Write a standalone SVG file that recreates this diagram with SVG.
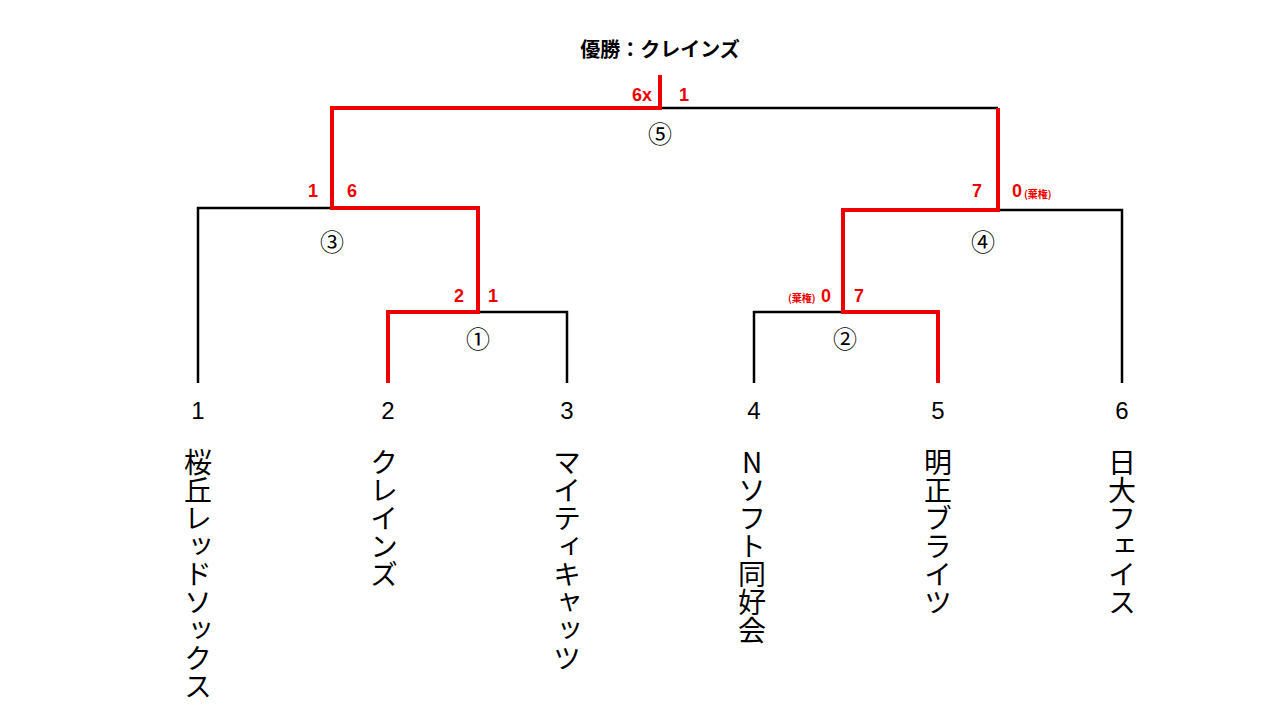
<svg xmlns="http://www.w3.org/2000/svg" width="1280" height="720" viewBox="0 0 1280 720">
<style>
.b{stroke:#000;stroke-width:2.5;fill:none}
.r{stroke:#e00;stroke-width:4;fill:none}
.s{fill:#e00;font-family:"Liberation Sans","Noto Sans CJK JP",sans-serif;font-weight:bold;font-size:18px}
.ss{fill:#e00;font-family:"Noto Sans CJK JP",sans-serif;font-weight:bold;font-size:10px}
.m{font-family:"Noto Sans CJK JP",sans-serif;font-size:24px;text-anchor:middle}
.n{font-family:"Liberation Sans",sans-serif;font-size:24px;text-anchor:middle}
.t{font-family:"Noto Sans CJK JP",sans-serif;font-size:28px;writing-mode:vertical-rl;text-orientation:upright}
</style>
<rect width="1280" height="720" fill="#fff"/>
<g id="connectors">
<path class="b" d="M660 108H998M198 383V208H332M478 312H567V383M998 210H1122V383M754 383V312H843"/>
<path class="r" d="M660 75V108H332V208H478V312H388V383M998 108V210H843V312H938V383"/>
</g>
<g id="title"><text x="660" y="57" text-anchor="middle" font-family="Noto Sans CJK JP,sans-serif" font-weight="bold" font-size="20">優勝：クレインズ</text></g>
<g id="m5"><text class="s" x="632" y="101">6x</text><text class="s" x="679" y="101">1</text><text class="m" x="660" y="143">⑤</text></g>
<g id="m3"><text class="s" x="308" y="197">1</text><text class="s" x="347" y="197">6</text><text class="m" x="332" y="251">③</text></g>
<g id="m1"><text class="s" x="454" y="302">2</text><text class="s" x="488" y="302">1</text><text class="m" x="478" y="348">①</text></g>
<g id="m4"><text class="s" x="972" y="197">7</text><text class="s" x="1012" y="197">0</text><text class="ss" x="1024" y="198">(棄権)</text><text class="m" x="983" y="251">④</text></g>
<g id="m2"><text class="ss" x="788" y="302">(棄権)</text><text class="s" x="821" y="302">0</text><text class="s" x="854" y="302">7</text><text class="m" x="845" y="348">②</text></g>
<g id="teams">
<text class="n" x="198" y="419">1</text><text class="n" x="388" y="419">2</text><text class="n" x="567" y="419">3</text><text class="n" x="754" y="419">4</text><text class="n" x="938" y="419">5</text><text class="n" x="1122" y="419">6</text>
<text class="t" x="198" y="448">桜丘レッドソックス</text>
<text class="t" x="384" y="448">クレインズ</text>
<text class="t" x="567" y="448">マイティキャッツ</text>
<text class="t" x="752" y="448">Nソフト同好会</text>
<text class="t" x="938" y="448">明正ブライツ</text>
<text class="t" x="1122" y="448">日大フェイス</text>
</g>
</svg>
